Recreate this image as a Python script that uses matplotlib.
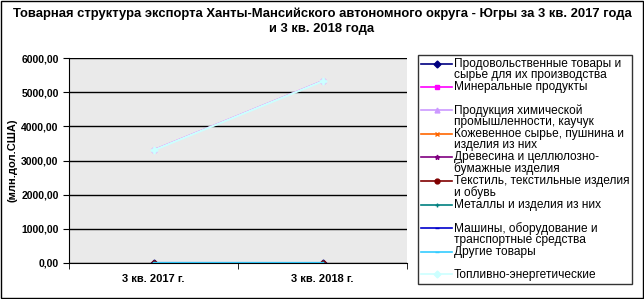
import matplotlib.pyplot as plt
import matplotlib as mpl
from matplotlib.legend_handler import HandlerLine2D

mpl.rcParams['font.family'] = ['Liberation Sans', 'DejaVu Sans']

# Data
quarters = ["3 кв. 2017 г.", "3 кв. 2018 г."]
series_names = [
    "Продовольственные товары и\nсырье для их производства",
    "Минеральные продукты\n ",
    "Продукция химической\nпромышленности, каучук",
    "Кожевенное сырье, пушнина и\nизделия из них",
    "Древесина и целлюлозно-\nбумажные изделия",
    "Текстиль, текстильные изделия\nи обувь",
    "Металлы и изделия из них\n ",
    "Машины, оборудование и\nтранспортные средства",
    "Другие товары\n ",
    "Топливно-энергетические",
]
food = [2.0, 3.0]
minerals = [3320.0, 5340.0]
chemicals = [4.0, 5.0]
leather = [0.1, 0.1]
wood = [3.0, 4.0]
textile = [0.2, 0.3]
metals = [4.0, 5.0]
machines = [6.0, 5.0]
other = [3.0, 3.0]
fuel = [3300.0, 5320.0]
series_values = [food, minerals, chemicals, leather, wood, textile, metals, machines, other, fuel]

colors = ['#000080', '#FF00FF', '#CC99FF', '#FF6600', '#800080',
          '#800000', '#008080', '#0000CC', '#33CCFF', '#CCFFFF']
markers = ['D', 's', '^', 'x', '*', 'o', '+', '_', '_', 'D']
widths = [1.2, 0.6, 1.2, 1.2, 1.2, 1.2, 1.2, 1.2, 1.6, 1.6]


class TopHandler(HandlerLine2D):
    # put the legend line next to the first text line, like Excel does
    def create_artists(self, legend, orig_handle, xdescent, ydescent, width, height, fontsize, trans):
        arts = super().create_artists(legend, orig_handle, xdescent, ydescent, width, height, fontsize, trans)
        for a in arts:
            a.set_ydata([y + 0.5 * fontsize for y in a.get_ydata()])
        return arts


fig = plt.figure(figsize=(6.44, 2.99), dpi=100)
fig.patch.set_facecolor('white')
ax = fig.add_axes([69 / 644, 1 - 263 / 299, (407 - 69) / 644, (263 - 58) / 299])
ax.set_facecolor('#EAEAEA')

x = list(range(len(quarters)))
lines = []
for vals, name, c, m, w in zip(series_values, series_names, colors, markers, widths):
    ln, = ax.plot(x, vals, color=c, marker=m, markersize=3.5, linewidth=w, label=name)
    lines.append(ln)

ax.set_xlim(-0.5, 1.5)
ax.set_ylim(0, 6000)
ax.set_yticks(range(0, 6001, 1000))
ax.set_yticklabels([f"{v},00" for v in range(0, 6001, 1000)], fontsize=7.5, fontweight='bold')
ax.yaxis.grid(True, color='black', linewidth=1)
ax.set_axisbelow(True)
ax.set_xticks(x)
ax.set_xticklabels(quarters, fontsize=8, fontweight='bold')
ax.tick_params(axis='x', length=0, pad=8)
ax.set_xticks([-0.5, 0.5, 1.5], minor=True)
ax.tick_params(axis='x', which='minor', length=4, direction='out')
ax.tick_params(axis='y', length=4)
for s in ['top', 'right']:
    ax.spines[s].set_visible(False)
ax.set_ylabel("(млн.дол.США)", fontsize=8, fontweight='bold', labelpad=3)

fig.text(0.5, 0.975, "Товарная структура экспорта Ханты-Мансийского автономного округа - Югры за 3 кв. 2017 года\nи 3 кв. 2018 года",
         ha='center', va='top', fontsize=9.4, fontweight='bold', linespacing=1.3)

hmap = {mpl.lines.Line2D: TopHandler(), lines[-1]: HandlerLine2D()}
leg = fig.legend(handles=lines, loc='upper left', bbox_to_anchor=(418 / 644, 1 - 55 / 299), fontsize=8.6,
                 frameon=True, fancybox=False, edgecolor='black', handlelength=2.6,
                 handletextpad=0.15, labelspacing=0.0, borderpad=0.25, borderaxespad=0,
                 handler_map=hmap)
leg.get_frame().set_linewidth(1)
for t in leg.get_texts():
    t.set_linespacing(0.9)
for hl in leg.get_lines():
    hl.set_linewidth(1.2)

# outer border
fig.add_artist(plt.Rectangle((0.002, 0.003), 0.996, 0.994, transform=fig.transFigure,
                             fill=False, edgecolor='black', linewidth=1))

fig.savefig("out.png", dpi=100)
